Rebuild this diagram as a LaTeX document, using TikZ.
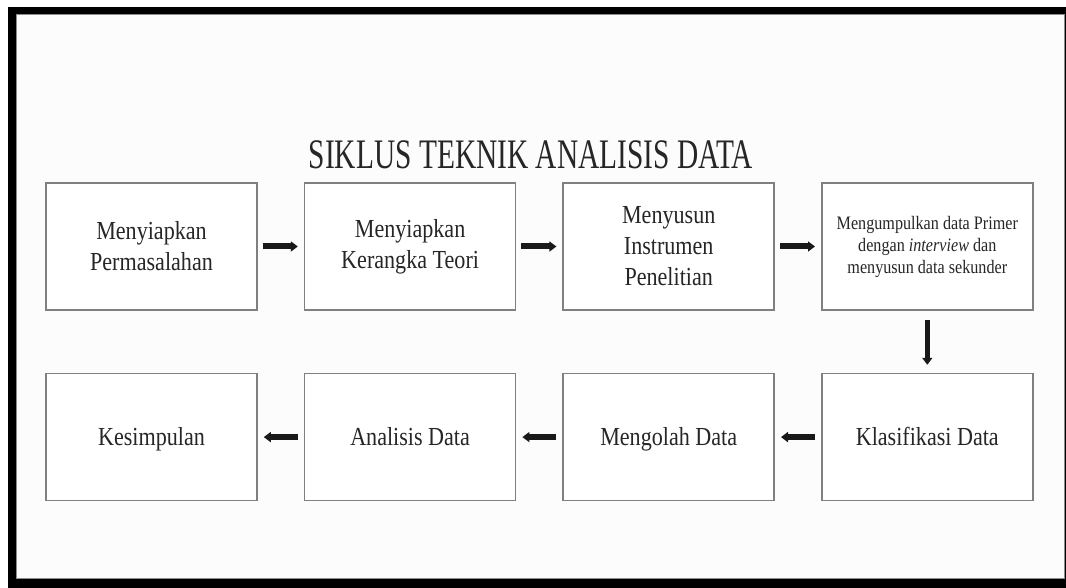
\documentclass[tikz,border=0pt]{standalone}
\usepackage{fontspec}
\setmainfont[FakeStretch=0.85]{Liberation Serif}
\newfontfamily\titlefont[FakeStretch=0.7]{Liberation Serif}
\usetikzlibrary{arrows.meta,positioning}

\begin{document}
\begin{tikzpicture}[x=1pt,y=-1pt]
\tikzset{
    box/.style={
           rectangle,
           draw=black!50,
           line width=1.6pt,
           fill=white,
           minimum width=211pt,
           minimum height=127pt,
           align=center,
           text=black!85,
           font=\fontsize{26}{31}\selectfont},
    small/.style={
           font=\fontsize{19}{22}\selectfont},
    oneline/.style={
           text height=19pt,
           text depth=2pt},
    % Define arrow style
    arrow/.style= {
           -{Triangle[length=7pt,width=10pt]},
           line width=6pt,
           black!90
    }
}
\useasboundingbox (0,0) rectangle (1066,588);
% frame
\fill[black] (8,7) rectangle (1075,588);
\fill[white!99!black] (16,15) rectangle (1064,578);
\draw[black!45,line width=1pt] (16,15) rectangle (1064,578);
\node[font=\titlefont\fontsize{42}{48}\selectfont,text=black!85] (title) at (531,155) {SIKLUS TEKNIK ANALISIS DATA};
\node[box] (masalah) at (151.5,246.5) {Menyiapkan\\Permasalahan};
\node[box,right =46pt of masalah] (teori) {Menyiapkan\\Kerangka Teori};
\node[box,right =46pt of teori] (instrumen) {Menyusun\\Instrumen\\Penelitian};
\node[box,small,right =46pt of instrumen] (kumpul) {Mengumpulkan data Primer\\dengan \textit{interview} dan\\menyusun data sekunder};
\node[box,oneline,below =62pt of kumpul] (klasifikasi) {Klasifikasi Data};
\node[box,oneline,left =46pt of klasifikasi] (olah) {Mengolah Data};
\node[box,oneline,left =46pt of olah] (analisis) {Analisis Data};
\node[box,oneline,left =46pt of analisis] (simpulan) {Kesimpulan};
\draw[arrow] ([xshift=5pt]masalah.east) -- ([xshift=-6pt]teori.west);
\draw[arrow] ([xshift=5pt]teori.east) -- ([xshift=-6pt]instrumen.west);
\draw[arrow] ([xshift=5pt]instrumen.east) -- ([xshift=-6pt]kumpul.west);
\draw[arrow,line width=5pt] ([yshift=-9pt]kumpul.south) -- ([yshift=8pt]klasifikasi.north);
\draw[arrow] ([xshift=-6pt]klasifikasi.west) -- ([xshift=6pt]olah.east);
\draw[arrow] ([xshift=-6pt]olah.west) -- ([xshift=6pt]analisis.east);
\draw[arrow] ([xshift=-6pt]analisis.west) -- ([xshift=6pt]simpulan.east);
\end{tikzpicture}
\end{document}
